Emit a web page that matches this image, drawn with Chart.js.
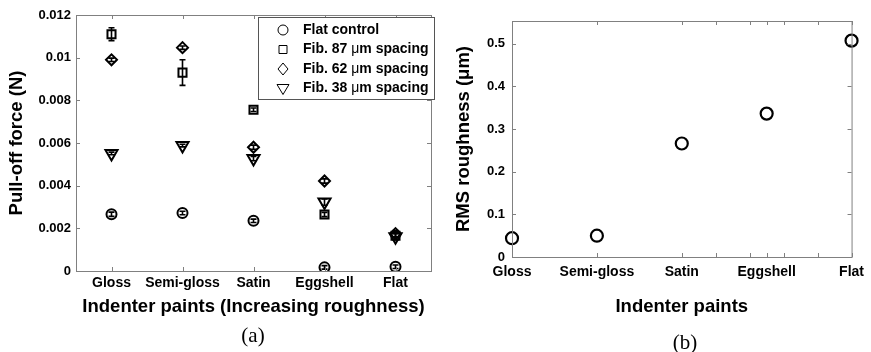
<!DOCTYPE html>
<html>
<head>
<meta charset="utf-8">
<script src="https://cdn.jsdelivr.net/npm/chart.js@4.4.1/dist/chart.umd.min.js"></script>
<style>
  body { margin: 0; background: #fff; }
  #wrap { position: relative; width: 871px; height: 352px; overflow: hidden; }
  #ca { position: absolute; left: 0; top: 0; }
  #cb { position: absolute; left: 440px; top: 0; }
  .cap { position: absolute; font-family: 'Liberation Serif', 'Times New Roman', serif; font-size: 21px; color: #000; transform: translate(-50%, -50%); }
</style>
</head>
<body>
<div id="wrap">
  <canvas id="ca" width="440" height="352"></canvas>
  <canvas id="cb" width="431" height="352"></canvas>
  <div class="cap" style="left:253px;top:335px">(a)</div>
  <div class="cap" style="left:685px;top:342px">(b)</div>
</div>
<script>
// categories
const paints = ['Gloss', 'Semi-gloss', 'Satin', 'Eggshell', 'Flat'];

// (a) pull-off force, N
const flatControl    = [0.00266, 0.00272, 0.00235, 0.00017, 0.00020];
const flatControlErr = [0.00010, 0.00008, 0.00008, 0.00008, 0.00008];
const fib87          = [0.01110, 0.00930, 0.00756, 0.00265, 0.00165];
const fib87Err       = [0.00030, 0.00060, 0.00008, 0.00010, 0.00015];
const fib62          = [0.00990, 0.01047, 0.00580, 0.00422, 0.00175];
const fib62Err       = [0.00008, 0.00008, 0.00010, 0.00010, 0.00015];
const fib38          = [0.00551, 0.00588, 0.00527, 0.00323, 0.00160];
const fib38Err       = [0.00006, 0.00006, 0.00010, 0.00015, 0.00015];
const forceTicks = [0, 0.002, 0.004, 0.006, 0.008, 0.01, 0.012];

// (b) RMS roughness, um
const roughness = [0.044, 0.050, 0.266, 0.336, 0.507];
const roughTicks = [0, 0.1, 0.2, 0.3, 0.4, 0.5];
const roughXTicks = [0, 1, 2, 2.4, 2.8, 3, 3.2, 3.6, 4];

Chart.defaults.font.family = "'Liberation Sans', Arial, sans-serif";
Chart.defaults.color = '#000';

const axisGray = '#808080';

// box round the plot with inward tick marks
const frame = {
  id: 'frame',
  afterDraw(chart, args, opts) {
    const {ctx, chartArea: a, scales: {x, y}} = chart;
    ctx.save();
    ctx.strokeStyle = axisGray;
    ctx.lineWidth = 1;
    ctx.strokeRect(a.left + 0.5, a.top + 0.5, a.right - a.left, a.bottom - a.top);
    ctx.beginPath();
    (opts.xTicks || []).forEach(v => {
      const px = Math.round(x.getPixelForValue(v)) + 0.5;
      ctx.moveTo(px, a.top); ctx.lineTo(px, a.top + 4);
      ctx.moveTo(px, a.bottom); ctx.lineTo(px, a.bottom - 4);
    });
    (opts.yTicks || []).forEach(v => {
      const py = Math.round(y.getPixelForValue(v)) + 0.5;
      ctx.moveTo(a.left, py); ctx.lineTo(a.left + 4, py);
      ctx.moveTo(a.right, py); ctx.lineTo(a.right - 4, py);
    });
    ctx.stroke();
    ctx.restore();
  }
};

const errorBars = {
  id: 'errorBars',
  afterDatasetsDraw(chart) {
    const {ctx, scales: {y}} = chart;
    ctx.save();
    ctx.strokeStyle = '#000';
    ctx.lineWidth = 1.6;
    chart.data.datasets.forEach((ds, i) => {
      if (!ds.errors) return;
      chart.getDatasetMeta(i).data.forEach((pt, j) => {
        const v = ds.data[j], e = ds.errors[j];
        const t = y.getPixelForValue(v + e), b = y.getPixelForValue(v - e);
        ctx.beginPath();
        ctx.moveTo(pt.x, t); ctx.lineTo(pt.x, b);
        ctx.moveTo(pt.x - 3, t); ctx.lineTo(pt.x + 3, t);
        ctx.moveTo(pt.x - 3, b); ctx.lineTo(pt.x + 3, b);
        ctx.stroke();
      });
    });
    ctx.restore();
  }
};

function symbol(ctx, style, cx, cy) {
  ctx.beginPath();
  if (style === 'circle') ctx.arc(cx, cy, 5, 0, Math.PI * 2);
  else if (style === 'rect') ctx.rect(cx - 4, cy - 4, 8, 8);
  else if (style === 'rectRot') { ctx.moveTo(cx, cy - 6); ctx.lineTo(cx + 5, cy); ctx.lineTo(cx, cy + 6); ctx.lineTo(cx - 5, cy); ctx.closePath(); }
  else { ctx.moveTo(cx - 6, cy - 4); ctx.lineTo(cx + 6, cy - 4); ctx.lineTo(cx, cy + 6); ctx.closePath(); }
  ctx.stroke();
}

// legend inside the plot, upper right
const legendBox = {
  id: 'legendBox',
  afterDraw(chart, args, opts) {
    const {ctx} = chart;
    const [x0, y0, w, h] = opts.box;
    ctx.save();
    ctx.fillStyle = '#fff';
    ctx.fillRect(x0, y0, w, h);
    ctx.strokeStyle = '#555';
    ctx.lineWidth = 1;
    ctx.strokeRect(x0 + 0.5, y0 + 0.5, w, h);
    ctx.strokeStyle = '#000';
    ctx.fillStyle = '#000';
    ctx.textBaseline = 'middle';
    chart.data.datasets.forEach((ds, i) => {
      const cy = y0 + 13 + i * 19.5;
      symbol(ctx, ds.pointStyle, x0 + 25, cy);
      let tx = x0 + 45;
      ds.label.split(/(μ)/).forEach(part => {
        ctx.font = (part === 'μ' ? '' : 'bold ') + "14px 'Liberation Sans', Arial, sans-serif";
        ctx.fillText(part, tx, cy);
        tx += ctx.measureText(part).width;
      });
    });
    ctx.restore();
  }
};

function series(label, data, errors, style, radius, rotation) {
  return {
    label, data, errors,
    showLine: false,
    pointStyle: style,
    pointRadius: radius,
    pointRotation: rotation,
    pointBorderWidth: 2,
    pointBorderColor: '#000',
    pointBackgroundColor: 'rgba(0,0,0,0)'
  };
}

const tickFont = {size: 14, weight: 'bold'};
const yTickFont = {size: 13, weight: 'bold'};
const titleFont = {size: 18.5, weight: 'bold'};

new Chart(document.getElementById('ca'), {
  type: 'line',
  data: {
    labels: paints,
    datasets: [
      series('Flat control', flatControl, flatControlErr, 'circle', 5, 0),
      series('Fib. 87 μm spacing', fib87, fib87Err, 'rect', 5.7, 0),
      series('Fib. 62 μm spacing', fib62, fib62Err, 'rectRot', 5.5, 0),
      series('Fib. 38 μm spacing', fib38, fib38Err, 'triangle', 7, 180)
    ]
  },
  options: {
    responsive: false,
    animation: false,
    events: [],
    layout: {padding: {left: 0, top: 15, right: 5, bottom: 0}},
    plugins: {
      legend: {display: false},
      tooltip: {enabled: false},
      frame: {xTicks: [0, 1, 2, 3, 4], yTicks: forceTicks},
      legendBox: {box: [258, 17, 176, 82]}
    },
    scales: {
      x: {
        offset: true,
        grid: {display: false, drawTicks: false},
        border: {display: false},
        ticks: {font: tickFont, padding: 4, maxRotation: 0, autoSkip: false},
        title: {display: true, text: 'Indenter paints (Increasing roughness)', font: titleFont, padding: {top: 0, bottom: 34}},
        afterFit(s) { s.height = 81; }
      },
      y: {
        min: 0, max: 0.012,
        afterBuildTicks(s) { s.ticks = forceTicks.map(v => ({value: v})); },
        grid: {display: false, drawTicks: false},
        border: {display: false},
        ticks: {font: yTickFont, padding: 5, callback: v => String(+v.toFixed(3))},
        title: {display: true, text: 'Pull-off force (N)', font: titleFont, padding: {top: 6, bottom: 0}},
        afterFit(s) { s.width = 76; }
      }
    }
  },
  plugins: [frame, errorBars, legendBox]
});

new Chart(document.getElementById('cb'), {
  type: 'scatter',
  data: {
    datasets: [{
      label: 'RMS roughness',
      data: roughness.map((v, i) => ({x: i, y: v})),
      pointStyle: 'circle',
      pointRadius: 6,
      pointBorderWidth: 2.2,
      pointBorderColor: '#000',
      pointBackgroundColor: 'rgba(0,0,0,0)'
    }]
  },
  options: {
    responsive: false,
    animation: false,
    events: [],
    clip: false,
    layout: {padding: {left: 0, top: 21, right: 15, bottom: 0}},
    plugins: {
      legend: {display: false},
      tooltip: {enabled: false},
      frame: {xTicks: roughXTicks, yTicks: roughTicks}
    },
    scales: {
      x: {
        type: 'linear', min: 0, max: 4,
        afterBuildTicks(s) { s.ticks = paints.map((p, i) => ({value: i})); },
        grid: {display: false, drawTicks: false},
        border: {display: false},
        ticks: {font: tickFont, padding: 7, maxRotation: 0, autoSkip: false, callback: v => paints[v]},
        title: {display: true, text: 'Indenter paints', font: titleFont, padding: {top: 0, bottom: 34}},
        afterFit(s) { s.height = 95; }
      },
      y: {
        min: 0, max: 0.553,
        afterBuildTicks(s) { s.ticks = roughTicks.map(v => ({value: v})); },
        grid: {display: false, drawTicks: false},
        border: {display: false},
        ticks: {font: yTickFont, padding: 7, callback: v => String(+v.toFixed(1))},
        title: {display: true, text: 'RMS roughness (μm)', font: titleFont, padding: {top: 13, bottom: 0}},
        afterFit(s) { s.width = 72; }
      }
    }
  },
  plugins: [frame]
});
</script>
</body>
</html>
